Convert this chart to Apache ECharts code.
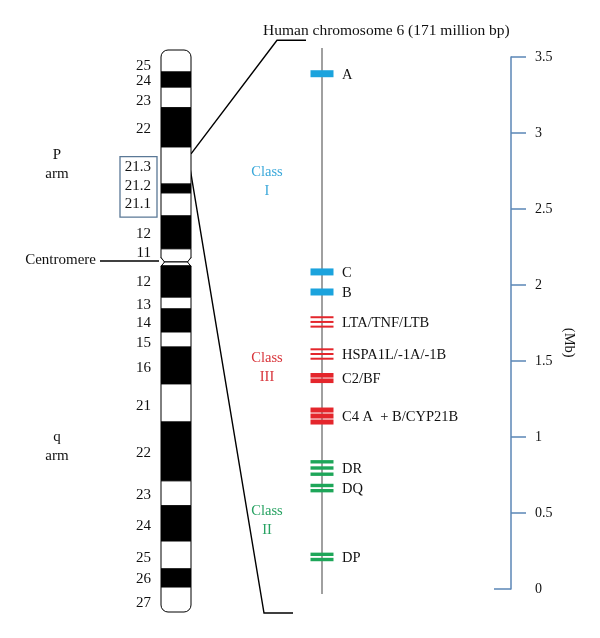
<!DOCTYPE html>
<html>
<head>
<meta charset="utf-8">
<script src="https://cdn.jsdelivr.net/npm/echarts@6/dist/echarts.min.js"></script>
<style>
  html, body { margin: 0; padding: 0; background: #fff; }
  #main { width: 600px; height: 638px; }
</style>
</head>
<body>
<div id="main"></div>
<script>
// chromosome 6 ideogram, band edges in Mb (171 Mb total)
var bandNames = ['25', '24', '23', '22', '21.3', '21.2', '21.1', '12', '11',
                 '', '12', '13', '14', '15', '16', '21', '22', '23', '24', '25', '26', '27'];
var bandStarts = [0, 6.7, 11.3, 17.6, 29.5, 40.8, 43.5, 50.5, 60.5,
                  64.5, 65.7, 75.2, 78.8, 85.8, 90.4, 101.6, 113.2, 131.1, 138.7, 149.4, 157.9, 163.4];
var bandEnds = [6.7, 11.3, 17.6, 29.5, 40.8, 43.5, 50.5, 60.5, 64.5,
                65.7, 75.2, 78.8, 85.8, 90.4, 101.6, 113.2, 131.1, 138.7, 149.4, 157.9, 163.4, 171];
var bandStains = ['w', 'b', 'w', 'b', 'w', 'b', 'w', 'b', 'w',
                  'w', 'b', 'w', 'b', 'w', 'b', 'w', 'b', 'w', 'b', 'w', 'b', 'w'];
// where each band name sits along the chromosome (Mb)
var bandLabelMb = [4.9, 9.6, 15.4, 24.0, 35.5, 41.4, 46.9, 56.0, 61.7,
                   null, 70.6, 77.6, 83.1, 89.2, 96.7, 108.3, 122.6, 135.4, 144.8, 154.5, 160.9, 168.2];
var centromereMb = 64.5;
var armNames = ['P\narm', 'q\narm'];
var armMb = [34.8, 120.8];
var mhcSpanMb = [31.6, 35.9];

// MHC region map (Mb)
var geneNames = ['A', 'C', 'B', 'LTA/TNF/LTB', 'HSPA1L/-1A/-1B', 'C2/BF',
                 'C4 A  + B/CYP21B', 'DR', 'DQ', 'DP'];
var genePos = [3.39, 2.086, 1.954, 1.757, 1.546, 1.388, 1.138, 0.796, 0.664, 0.211];
var geneClass = ['I', 'I', 'I', 'III', 'III', 'III', 'III', 'II', 'II', 'II'];
var geneLines = [1, 1, 1, 3, 3, 2, 3, 3, 2, 2];
var classNames = ['Class\nI', 'Class\nIII', 'Class\nII'];
var classKeys = ['I', 'III', 'II'];
var classPos = [2.68, 1.456, 0.45];
var mapTop = 3.56, mapBottom = -0.033;
var bracketTop = 3.61, bracketBottom = -0.158;
var scaleTicks = [0.5, 1, 1.5, 2, 2.5, 3, 3.5];

// looks
var serif = '"Liberation Serif", "DejaVu Serif", serif';
var classColors = { I: '#1ba3dd', III: '#e4262c', II: '#1ea659' };
var classTextColors = { I: '#3aa8da', III: '#d8343a', II: '#27a262' };
var barLooks = {
  solid: { h: 7, pitch: 0 },
  fine: { h: 2, pitch: 4.7 },
  block2: { h: 4.6, pitch: 5.5 },
  block3: { h: 5, pitch: 6 },
  green3: { h: 3.4, pitch: 6.2 },
  green2: { h: 3.4, pitch: 5.2 }
};
var geneLook = ['solid', 'solid', 'solid', 'fine', 'fine', 'block2', 'block3', 'green3', 'green2', 'green2'];
var axisBlue = '#5b86b6';

var myChart = echarts.init(document.getElementById('main'));

var option = {
  backgroundColor: '#fff',
  animation: false,
  title: {
    text: 'Human chromosome 6 (171 million bp)',
    left: 258,
    top: 18,
    textStyle: { fontFamily: serif, fontWeight: 'normal', fontSize: 15.5, color: '#111' }
  },
  grid: [
    { left: 161, width: 30, top: 50, height: 562 },
    { left: 322, right: 89, top: 57, height: 532 }
  ],
  xAxis: [
    { gridIndex: 0, type: 'value', min: 0, max: 1, show: false },
    { gridIndex: 1, type: 'value', min: 0, max: 1, show: false }
  ],
  yAxis: [
    { gridIndex: 0, type: 'value', min: 0, max: 171, inverse: true, show: false },
    {
      gridIndex: 1, type: 'value', min: 0, max: 3.5, interval: 0.5, position: 'right',
      splitLine: { show: false },
      axisLine: { show: true, onZero: false, lineStyle: { color: axisBlue, width: 1.5 } },
      axisTick: { show: true, length: 15, customValues: scaleTicks, lineStyle: { color: axisBlue, width: 1.5 } },
      axisLabel: {
        margin: 24, color: '#111', fontFamily: serif, fontSize: 14,
        formatter: function (v) { return String(v); }
      }
    },
    {
      gridIndex: 1, type: 'value', min: 0, max: 3.5, position: 'right',
      splitLine: { show: false },
      axisLine: { show: false, onZero: false },
      axisTick: { show: true, inside: true, length: 17, customValues: [0], lineStyle: { color: axisBlue, width: 1.5 } },
      axisLabel: { show: false }
    }
  ],
  series: [
    {
      name: 'bands',
      type: 'custom',
      xAxisIndex: 0, yAxisIndex: 0,
      z: 2,
      data: bandStarts.map(function (s, i) { return [s, bandEnds[i], i]; }),
      renderItem: function (params, api) {
        var i = api.value(2);
        var p0 = api.coord([0, api.value(0)]);
        var p1 = api.coord([1, api.value(1)]);
        var last = bandStarts.length - 1;
        var r = i === 0 ? [7, 7, 0, 0] : (i === last ? [0, 0, 7, 7] : 0);
        var children = [{
          type: 'rect',
          shape: { x: p0[0], y: p0[1], width: p1[0] - p0[0], height: p1[1] - p0[1], r: r },
          style: { fill: bandStains[i] === 'b' ? '#000' : '#fff', stroke: '#000', lineWidth: 1 }
        }];
        if (bandNames[i]) {
          var lp = api.coord([0, bandLabelMb[i]]);
          children.push({
            type: 'text',
            style: {
              x: p0[0] - 10, y: lp[1],
              text: bandNames[i], align: 'right', verticalAlign: 'middle',
              font: '15px ' + serif, fill: '#111'
            }
          });
        }
        return { type: 'group', children: children };
      }
    },
    {
      name: 'centromere',
      type: 'custom',
      xAxisIndex: 0, yAxisIndex: 0,
      z: 3,
      data: [[centromereMb]],
      renderItem: function (params, api) {
        var l = api.coord([0, api.value(0)]);
        var rr = api.coord([1, api.value(0)]);
        var y = l[1], d = 4.5, n = 3.5;
        // box round the 21.x names
        var b0 = api.coord([0, bandLabelMb[4]]);
        var b1 = api.coord([0, bandLabelMb[6]]);
        return {
          type: 'group',
          children: [
            { type: 'polygon', shape: { points: [[l[0] - 1, y - d], [l[0] + n, y], [l[0] - 1, y + d]] }, style: { fill: '#fff' } },
            { type: 'polyline', shape: { points: [[l[0], y - d], [l[0] + n, y], [l[0], y + d]] }, style: { stroke: '#000', lineWidth: 1, fill: null } },
            { type: 'polygon', shape: { points: [[rr[0] + 1, y - d], [rr[0] - n, y], [rr[0] + 1, y + d]] }, style: { fill: '#fff' } },
            { type: 'polyline', shape: { points: [[rr[0], y - d], [rr[0] - n, y], [rr[0], y + d]] }, style: { stroke: '#000', lineWidth: 1, fill: null } },
            { type: 'line', shape: { x1: l[0] - 61, y1: y - 1, x2: l[0] - 2, y2: y - 1 }, style: { stroke: '#000', lineWidth: 1.3 } },
            {
              type: 'text',
              style: {
                x: l[0] - 65, y: y - 2, text: 'Centromere', align: 'right', verticalAlign: 'middle',
                font: '15px ' + serif, fill: '#111'
              }
            },
            {
              type: 'rect',
              shape: { x: l[0] - 41, y: b0[1] - 10, width: 37, height: b1[1] - b0[1] + 23 },
              style: { fill: null, stroke: '#5a7896', lineWidth: 1.3 }
            }
          ]
        };
      }
    },
    {
      name: 'arms',
      type: 'custom',
      xAxisIndex: 0, yAxisIndex: 0,
      data: armMb.map(function (v, i) { return [v, i]; }),
      renderItem: function (params, api) {
        var c = api.coord([0, api.value(0)]);
        return {
          type: 'text',
          style: {
            x: c[0] - 104, y: c[1], text: armNames[api.value(1)], align: 'center', verticalAlign: 'middle',
            font: '15px ' + serif, lineHeight: 19, fill: '#111'
          }
        };
      }
    },
    {
      name: 'mhc line',
      type: 'line',
      xAxisIndex: 1, yAxisIndex: 1,
      clip: false,
      symbol: 'none',
      silent: true,
      lineStyle: { color: '#808080', width: 1.5 },
      data: [[0, mapTop], [0, mapBottom]]
    },
    {
      name: 'genes',
      type: 'custom',
      xAxisIndex: 1, yAxisIndex: 1,
      z: 4,
      data: genePos.map(function (v, i) { return [v, i]; }),
      renderItem: function (params, api) {
        var i = api.value(1);
        var c = api.coord([0, api.value(0)]);
        var look = barLooks[geneLook[i]];
        var n = geneLines[i];
        var span = (n - 1) * look.pitch;
        var children = [];
        for (var k = 0; k < n; k++) {
          var yk = c[1] - span / 2 + k * look.pitch;
          children.push({
            type: 'rect',
            shape: { x: c[0] - 11.5, y: yk - look.h / 2, width: 23, height: look.h },
            style: { fill: classColors[geneClass[i]] }
          });
        }
        children.push({
          type: 'text',
          style: {
            x: c[0] + 20, y: c[1] + 1, text: geneNames[i], verticalAlign: 'middle',
            font: '14.5px ' + serif, fill: '#111'
          }
        });
        return { type: 'group', children: children };
      }
    },
    {
      name: 'classes',
      type: 'custom',
      xAxisIndex: 1, yAxisIndex: 1,
      data: classPos.map(function (v, i) { return [v, i]; }),
      renderItem: function (params, api) {
        var i = api.value(1);
        var c = api.coord([0, api.value(0)]);
        return {
          type: 'text',
          style: {
            x: c[0] - 55, y: c[1], text: classNames[i], align: 'center', verticalAlign: 'middle',
            font: '14.5px ' + serif, lineHeight: 19, fill: classTextColors[classKeys[i]]
          }
        };
      }
    }
  ]
};

myChart.setOption(option);

// zoom bracket from the chromosome to the map, and the unit label
var chromA = myChart.convertToPixel({ gridIndex: 0 }, [1, mhcSpanMb[0]]);
var chromB = myChart.convertToPixel({ gridIndex: 0 }, [1, mhcSpanMb[1]]);
var topPt = myChart.convertToPixel({ gridIndex: 1 }, [0, bracketTop]);
var botPt = myChart.convertToPixel({ gridIndex: 1 }, [0, bracketBottom]);
var axisPt = myChart.convertToPixel({ gridIndex: 1 }, [1, 1.62]);

myChart.setOption({
  graphic: [
    {
      type: 'polyline',
      shape: { points: [[chromA[0], chromA[1]], [topPt[0] - 45, topPt[1]], [topPt[0] - 16, topPt[1]]] },
      style: { stroke: '#000', lineWidth: 1.4, fill: null }
    },
    {
      type: 'polyline',
      shape: { points: [[chromB[0] - 1, chromB[1]], [botPt[0] - 58, botPt[1]], [botPt[0] - 29, botPt[1]]] },
      style: { stroke: '#000', lineWidth: 1.4, fill: null }
    },
    {
      type: 'text',
      x: axisPt[0] + 58,
      y: axisPt[1],
      rotation: -Math.PI / 2,
      style: { text: '(Mb)', align: 'center', verticalAlign: 'middle', font: '14.5px ' + serif, fill: '#111' }
    }
  ]
});
</script>
</body>
</html>
